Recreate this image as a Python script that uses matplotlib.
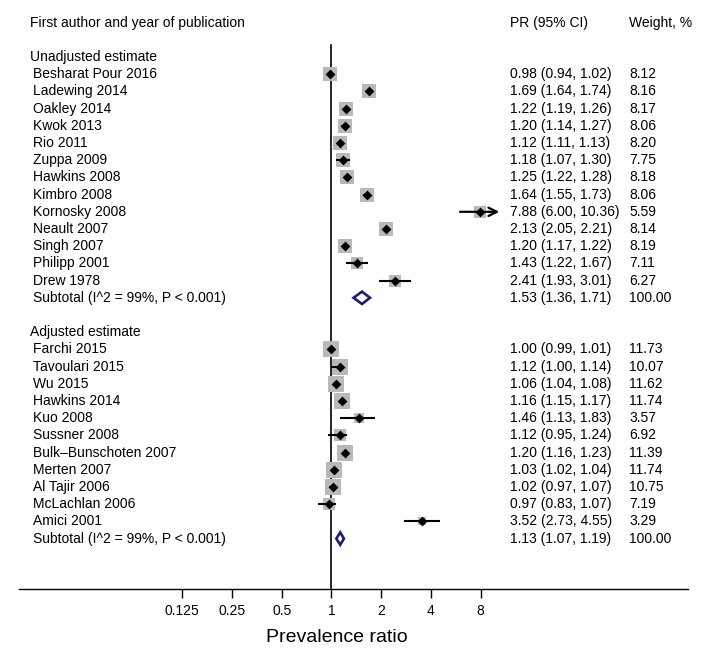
import numpy as np
import matplotlib.pyplot as plt

plt.rcParams['font.family'] = ['Liberation Sans', 'DejaVu Sans']

# --- data ---
unadj_names = ["Besharat Pour 2016", "Ladewing 2014", "Oakley 2014", "Kwok 2013", "Rio 2011",
               "Zuppa 2009", "Hawkins 2008", "Kimbro 2008", "Kornosky 2008", "Neault 2007",
               "Singh 2007", "Philipp 2001", "Drew 1978"]
unadj_pr = [0.98, 1.69, 1.22, 1.20, 1.12, 1.18, 1.25, 1.64, 7.88, 2.13, 1.20, 1.43, 2.41]
unadj_lo = [0.94, 1.64, 1.19, 1.14, 1.11, 1.07, 1.22, 1.55, 6.00, 2.05, 1.17, 1.22, 1.93]
unadj_hi = [1.02, 1.74, 1.26, 1.27, 1.13, 1.30, 1.28, 1.73, 10.36, 2.21, 1.22, 1.67, 3.01]
unadj_w = [8.12, 8.16, 8.17, 8.06, 8.20, 7.75, 8.18, 8.06, 5.59, 8.14, 8.19, 7.11, 6.27]
unadj_sub = (1.53, 1.36, 1.71)

adj_names = ["Farchi 2015", "Tavoulari 2015", "Wu 2015", "Hawkins 2014", "Kuo 2008",
             "Sussner 2008", "Bulk\u2013Bunschoten 2007", "Merten 2007", "Al Tajir 2006",
             "McLachlan 2006", "Amici 2001"]
adj_pr = [1.00, 1.12, 1.06, 1.16, 1.46, 1.12, 1.20, 1.03, 1.02, 0.97, 3.52]
adj_lo = [0.99, 1.00, 1.04, 1.15, 1.13, 0.95, 1.16, 1.02, 0.97, 0.83, 2.73]
adj_hi = [1.01, 1.14, 1.08, 1.17, 1.83, 1.24, 1.23, 1.04, 1.07, 1.07, 4.55]
adj_w = [11.73, 10.07, 11.62, 11.74, 3.57, 6.92, 11.39, 11.74, 10.75, 7.19, 3.29]
adj_sub = (1.13, 1.07, 1.19)

sub_label = "Subtotal (I^2 = 99%, P < 0.001)"
x_ticks = [0.125, 0.25, 0.5, 1, 2, 4, 8]
x_ticklabels = ["0.125", "0.25", "0.5", "1", "2", "4", "8"]
x_clip = 8

gray = "#b9b9b9"
navy = "#1c1c74"
px = 0.72  # points per pixel at dpi 100

fig = plt.figure(figsize=(7.09, 6.6), dpi=100)
ax = fig.add_axes([19 / 709, 71 / 660, 669 / 709, 589 / 660])
ax.set_xscale("log", base=2)
ax.set_xlim(2 ** -6.281, 2 ** 7.167)
ax.set_ylim(30.93, -3.314)
for s in ["top", "left", "right"]:
    ax.spines[s].set_visible(False)
ax.spines["bottom"].set_linewidth(1.0)
ax.set_yticks([])
ax.set_xticks(x_ticks, x_ticklabels)
ax.minorticks_off()
ax.tick_params(axis="x", length=6.5, width=1.0, pad=4, labelsize=10)
ax.set_xlabel("Prevalence ratio", fontsize=14, va="center")
ax.xaxis.set_label_coords((337 - 19) / 669, -(638 - 589) / 589)

trans = ax.get_yaxis_transform()
col_name = (33 - 19) / 669
col_group = (30 - 19) / 669
col_pr = (510 - 19) / 669
col_w = (629 - 19) / 669
fs = 10

ax.text(col_group, -2, "First author and year of publication", transform=trans, fontsize=fs, va="center")
ax.text(col_pr, -2, "PR (95% CI)", transform=trans, fontsize=fs, va="center")
ax.text(col_w, -2, "Weight, %", transform=trans, fontsize=fs, va="center")

# line of no effect
ax.plot([1, 1], [-0.7, 30.93], color="k", lw=1.2, clip_on=False, zorder=1)


def draw_group(y0, title, names, pr, lo, hi, w, sub):
    ax.text(col_group, y0, title, transform=trans, fontsize=fs, va="center")
    for i, name in enumerate(names):
        y = y0 + 1 + i
        ax.scatter(pr[i], y, marker="s", s=(px * 4.8) ** 2 * w[i], color=gray, lw=0, zorder=2)
        if hi[i] > x_clip:
            ax.annotate("", xy=(hi[i], y), xytext=(lo[i], y),
                        arrowprops=dict(arrowstyle="->", lw=1.6, color="k",
                                        shrinkA=0, shrinkB=0, mutation_scale=15), zorder=3)
        else:
            ax.plot([lo[i], hi[i]], [y, y], color="k", lw=1.5, zorder=3, solid_capstyle="butt")
        ax.scatter(pr[i], y, marker="D", s=25, color="k", lw=0, zorder=4)
        ax.text(col_name, y, name, transform=trans, fontsize=fs, va="center")
        ax.text(col_pr, y, f"{pr[i]:.2f} ({lo[i]:.2f}, {hi[i]:.2f})", transform=trans, fontsize=fs, va="center")
        ax.text(col_w, y, f"{w[i]:.2f}", transform=trans, fontsize=fs, va="center")
    ys = y0 + 1 + len(names)
    p, l, h = sub
    ax.fill([l, p, h, p], [ys, ys - 0.36, ys, ys + 0.36], facecolor="white",
            edgecolor=navy, lw=1.9, zorder=4, joinstyle="miter")
    ax.text(col_name, ys, sub_label, transform=trans, fontsize=fs, va="center")
    ax.text(col_pr, ys, f"{p:.2f} ({l:.2f}, {h:.2f})", transform=trans, fontsize=fs, va="center")
    ax.text(col_w, ys, "100.00", transform=trans, fontsize=fs, va="center")


draw_group(0, "Unadjusted estimate", unadj_names, unadj_pr, unadj_lo, unadj_hi, unadj_w, unadj_sub)
draw_group(16, "Adjusted estimate", adj_names, adj_pr, adj_lo, adj_hi, adj_w, adj_sub)

fig.savefig("out.png", dpi=100)
